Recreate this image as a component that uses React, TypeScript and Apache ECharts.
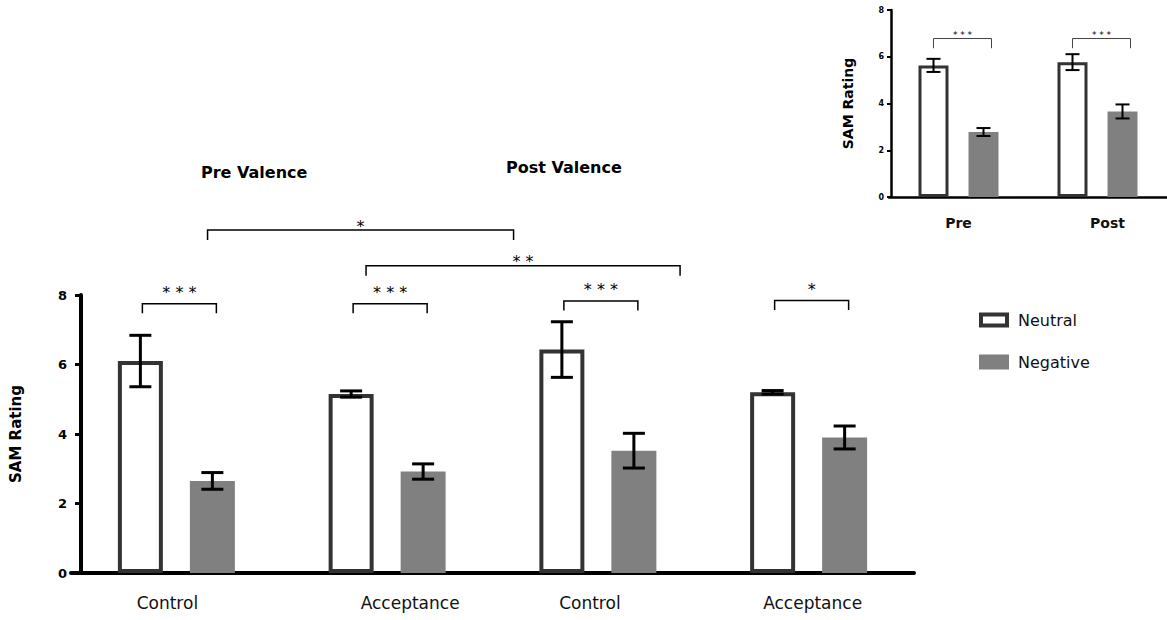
import React, { useEffect, useRef } from 'react';
import * as echarts from 'echarts';

const FONT = '"DejaVu Sans", "Liberation Sans", sans-serif';

// ---------- main chart data ----------
const mainCategories = ['Pre Control', 'Pre Acceptance', 'Post Control', 'Post Acceptance'];
const mainTickLabels = ['Control', 'Acceptance', 'Control', 'Acceptance'];
const mainNeutral = [6.1, 5.15, 6.43, 5.2];
const mainNeutralErr = [0.74, 0.09, 0.8, 0.05];
const mainNegative = [2.65, 2.92, 3.52, 3.9];
const mainNegativeErr = [0.24, 0.22, 0.5, 0.33];
const mainPairSig = ['***', '***', '***', '*'];
const mainPairSigY = [7.75, 7.75, 7.83, 7.84];
const mainYTicks = [0, 2, 4, 6, 8];
// brackets spanning groups: [from (category units), to, y]
const spanFrom = [0.148, 0.9];
const spanTo = [1.6, 2.39];
const spanY = [9.87, 8.84];
const spanSig = ['*', '**'];

// ---------- inset chart data ----------
const insetCategories = ['Pre', 'Post'];
const insetNeutral = [5.63, 5.77];
const insetNeutralErr = [0.28, 0.34];
const insetNegative = [2.78, 3.66];
const insetNegativeErr = [0.17, 0.3];
const insetSig = ['***', '***'];
const insetSigY = [6.78, 6.78];

const seriesNames = ['Neutral', 'Negative'];

// geometry
const MAIN_BAR_W = 45;
const MAIN_GAP = 0.6;
const MAIN_OFF = (MAIN_BAR_W * (1 + MAIN_GAP)) / 2;
const INSET_BAR_W = 30;
const INSET_GAP = 0.667;
const INSET_OFF = (INSET_BAR_W * (1 + INSET_GAP)) / 2;

const spaced = (s: string) => s.split('').join(' ');

function errRender(offset: number, capHalf: number, lw: number) {
  return (params: any, api: any) => {
    const cat = api.value(0);
    const mean = api.value(1);
    const err = api.value(2);
    const side = api.value(3);
    const c = api.coord([cat, mean]);
    const x = c[0] + side * offset;
    const top = api.coord([cat, mean + err])[1];
    const bot = api.coord([cat, mean - err])[1];
    const st = { stroke: '#000', lineWidth: lw };
    return {
      type: 'group',
      children: [
        { type: 'line', shape: { x1: x, y1: top, x2: x, y2: bot }, style: st },
        { type: 'line', shape: { x1: x - capHalf, y1: top, x2: x + capHalf, y2: top }, style: st },
        { type: 'line', shape: { x1: x - capHalf, y1: bot, x2: x + capHalf, y2: bot }, style: st },
      ],
    };
  };
}

function pairRender(
  offL: number,
  offR: number,
  leg: number,
  labels: string[],
  fontSize: number,
  lw: number,
  color: string,
  textDy: number
) {
  return (params: any, api: any) => {
    const cat = api.value(0);
    const y = api.value(1);
    const c = api.coord([cat, y]);
    const x1 = c[0] - offL;
    const x2 = c[0] + offR;
    const yy = c[1];
    return {
      type: 'group',
      children: [
        {
          type: 'polyline',
          shape: { points: [[x1, yy + leg], [x1, yy], [x2, yy], [x2, yy + leg]] },
          style: { stroke: color, lineWidth: lw, fill: null },
        },
        {
          type: 'text',
          x: (x1 + x2) / 2,
          y: yy + textDy,
          style: {
            text: spaced(labels[params.dataIndex]),
            fill: '#000',
            font: `${fontSize}px ${FONT}`,
            textAlign: 'center',
            textVerticalAlign: 'bottom',
          },
        },
      ],
    };
  };
}

function spanRender(leg: number) {
  return (params: any, api: any) => {
    const p1 = api.coord([api.value(0), api.value(2)]);
    const p2 = api.coord([api.value(1), api.value(2)]);
    return {
      type: 'group',
      children: [
        {
          type: 'polyline',
          shape: { points: [[p1[0], p1[1] + leg], [p1[0], p1[1]], [p2[0], p2[1]], [p2[0], p2[1] + leg]] },
          style: { stroke: '#000', lineWidth: 1.5, fill: null },
        },
        {
          type: 'text',
          x: (p1[0] + p2[0]) / 2,
          y: p1[1] + 4,
          style: {
            text: spaced(spanSig[params.dataIndex]),
            fill: '#000',
            font: `16px ${FONT}`,
            textAlign: 'center',
            textVerticalAlign: 'bottom',
          },
        },
      ],
    };
  };
}

export default function App() {
  const ref = useRef<HTMLDivElement>(null);

  useEffect(() => {
    const chart = echarts.init(ref.current!, null, { renderer: 'svg' });

    const mainErrData: number[][] = [];
    mainCategories.forEach((_, i) => {
      mainErrData.push([i, mainNeutral[i], mainNeutralErr[i], -1]);
      mainErrData.push([i, mainNegative[i], mainNegativeErr[i], 1]);
    });
    const insetErrData: number[][] = [];
    insetCategories.forEach((_, i) => {
      insetErrData.push([i, insetNeutral[i], insetNeutralErr[i], -1]);
      insetErrData.push([i, insetNegative[i], insetNegativeErr[i], 1]);
    });

    const option: any = {
      animation: false,
      backgroundColor: '#fff',
      textStyle: { fontFamily: FONT },
      grid: [
        { left: 68, width: 846, top: 295, height: 278 },
        { left: 889, right: 0, top: 10, height: 187 },
      ],
      xAxis: [
        {
          type: 'category',
          gridIndex: 0,
          data: mainCategories,
          axisLine: { lineStyle: { color: '#000', width: 4 } },
          axisTick: { show: false },
          splitLine: { show: false },
          axisLabel: {
            margin: 21,
            formatter: (v: string, i: number) => `{l${i}|${mainTickLabels[i]}}`,
            rich: {
              l0: { fontSize: 17, fontFamily: FONT, color: '#111', padding: [0, 18, 0, 0] },
              l1: { fontSize: 17, fontFamily: FONT, color: '#111', padding: [0, 0, 0, 46] },
              l2: { fontSize: 17, fontFamily: FONT, color: '#111', padding: [0, 16, 0, 0] },
              l3: { fontSize: 17, fontFamily: FONT, color: '#111', padding: [0, 0, 0, 8] },
            },
          },
        },
        {
          type: 'value',
          gridIndex: 0,
          min: -0.5,
          max: 3.5,
          show: false,
        },
        {
          type: 'category',
          gridIndex: 1,
          data: insetCategories,
          axisLine: { lineStyle: { color: '#000', width: 2.5 } },
          axisTick: { show: false },
          splitLine: { show: false },
          axisLabel: {
            margin: 19,
            formatter: (v: string, i: number) => `{p${i}|${insetCategories[i]}}`,
            rich: {
              p0: { fontSize: 14, fontWeight: 'bold', fontFamily: FONT, color: '#111' },
              p1: { fontSize: 14, fontWeight: 'bold', fontFamily: FONT, color: '#111', padding: [0, 0, 0, 20] },
            },
          },
        },
      ],
      yAxis: [
        {
          type: 'value',
          gridIndex: 0,
          offset: -10,
          min: mainYTicks[0],
          max: mainYTicks[mainYTicks.length - 1],
          interval: 2,
          axisLine: { show: true, onZero: false, lineStyle: { color: '#000', width: 4 } },
          axisTick: { show: true, length: 6, lineStyle: { color: '#000', width: 3 } },
          splitLine: { show: false },
          axisLabel: { margin: 14, fontSize: 13, fontWeight: 'bold', color: '#000', fontFamily: FONT },
          name: 'SAM Rating',
          nameLocation: 'middle',
          nameGap: 58,
          nameTextStyle: { fontSize: 15, fontWeight: 'bold', color: '#000', fontFamily: FONT },
        },
        {
          type: 'value',
          gridIndex: 1,
          offset: -2,
          min: 0,
          max: 8,
          interval: 2,
          axisLine: { show: true, onZero: false, lineStyle: { color: '#000', width: 2.5 } },
          axisTick: { show: true, length: 4, lineStyle: { color: '#000', width: 2 } },
          splitLine: { show: false },
          axisLabel: { margin: 7, fontSize: 8, fontWeight: 'bold', color: '#000', fontFamily: FONT },
          name: 'SAM Rating',
          nameLocation: 'middle',
          nameGap: 36,
          nameTextStyle: { fontSize: 14, fontWeight: 'bold', color: '#000', fontFamily: FONT },
        },
      ],
      legend: {
        orient: 'vertical',
        left: 974,
        top: 307,
        itemWidth: 26,
        itemHeight: 11,
        itemGap: 26,
        icon: 'rect',
        selectedMode: false,
        textStyle: { fontSize: 16, color: '#111', fontFamily: FONT, padding: [0, 0, 0, 6] },
        data: [
          { name: seriesNames[0], itemStyle: { color: '#fff', borderColor: '#333', borderWidth: 4 } },
          { name: seriesNames[1], itemStyle: { color: '#808080', borderColor: '#808080', borderWidth: 4 } },
        ],
      },
      graphic: [
        {
          type: 'text',
          x: 201,
          y: 172,
          style: { text: 'Pre Valence', font: `bold 16px ${FONT}`, fill: '#000', textVerticalAlign: 'middle' },
        },
        {
          type: 'text',
          x: 506,
          y: 167,
          style: { text: 'Post Valence', font: `bold 16px ${FONT}`, fill: '#000', textVerticalAlign: 'middle' },
        },
      ],
      series: [
        {
          type: 'bar',
          name: seriesNames[0],
          xAxisIndex: 0,
          yAxisIndex: 0,
          data: mainNeutral,
          barWidth: MAIN_BAR_W,
          barGap: `${MAIN_GAP * 100}%`,
          itemStyle: { color: '#fff', borderColor: '#333', borderWidth: 4 },
        },
        {
          type: 'bar',
          name: seriesNames[1],
          xAxisIndex: 0,
          yAxisIndex: 0,
          data: mainNegative,
          barWidth: MAIN_BAR_W,
          barGap: `${MAIN_GAP * 100}%`,
          itemStyle: { color: '#808080' },
        },
        {
          type: 'custom',
          name: 'mainErr',
          xAxisIndex: 0,
          yAxisIndex: 0,
          data: mainErrData,
          renderItem: errRender(MAIN_OFF, 11, 3),
          z: 10,
          silent: true,
        },
        {
          type: 'custom',
          name: 'mainPairs',
          xAxisIndex: 0,
          yAxisIndex: 0,
          data: mainCategories.map((_, i) => [i, mainPairSigY[i]]),
          renderItem: pairRender(MAIN_OFF - 2, MAIN_OFF + 4, 9.5, mainPairSig, 16, 1.5, '#000', -3),
          z: 10,
          silent: true,
        },
        {
          type: 'custom',
          name: 'mainSpans',
          xAxisIndex: 1,
          yAxisIndex: 0,
          data: spanFrom.map((f, i) => [f, spanTo[i], spanY[i]]),
          renderItem: spanRender(10),
          z: 10,
          silent: true,
        },
        {
          type: 'bar',
          name: seriesNames[0],
          xAxisIndex: 2,
          yAxisIndex: 1,
          data: insetNeutral,
          barWidth: INSET_BAR_W,
          barGap: `${INSET_GAP * 100}%`,
          itemStyle: { color: '#fff', borderColor: '#333', borderWidth: 3 },
        },
        {
          type: 'bar',
          name: seriesNames[1],
          xAxisIndex: 2,
          yAxisIndex: 1,
          data: insetNegative,
          barWidth: INSET_BAR_W,
          barGap: `${INSET_GAP * 100}%`,
          itemStyle: { color: '#808080' },
        },
        {
          type: 'custom',
          name: 'insetErr',
          xAxisIndex: 2,
          yAxisIndex: 1,
          data: insetErrData,
          renderItem: errRender(INSET_OFF, 7, 2),
          z: 10,
          silent: true,
        },
        {
          type: 'custom',
          name: 'insetPairs',
          xAxisIndex: 2,
          yAxisIndex: 1,
          data: insetCategories.map((_, i) => [i, insetSigY[i]]),
          renderItem: pairRender(INSET_OFF, INSET_OFF + 8, 9.7, insetSig, 9, 1, '#444', 1),
          z: 10,
          silent: true,
        },
      ],
    };

    chart.setOption(option);
    return () => chart.dispose();
  }, []);

  return (
    <div
      ref={ref}
      style={{ position: 'fixed', left: 0, top: 0, width: 1167, height: 620, background: '#fff' }}
    />
  );
}
